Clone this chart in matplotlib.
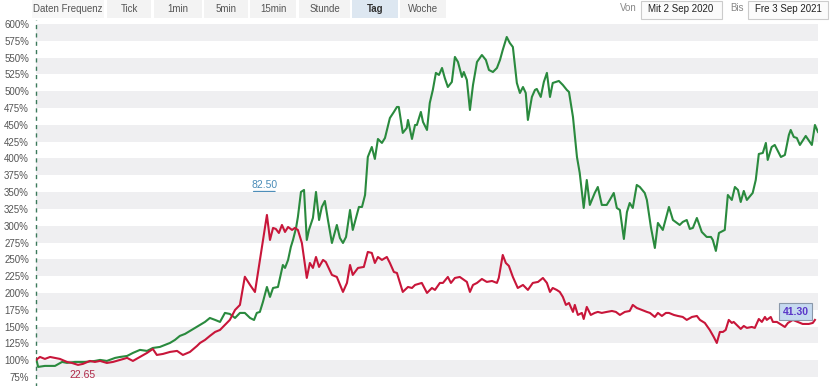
import matplotlib
matplotlib.use("Agg")
import matplotlib.pyplot as plt
from matplotlib.patches import Rectangle, Polygon

plt.rcParams['font.family'] = ['Liberation Sans', 'DejaVu Sans']

# ---------------- data ----------------
green_day = [0, 0.7, 2.9, 6.2, 8.5, 10.1, 12.7, 16, 19.2, 20.9, 23.1, 25.8, 27.4, 29.7, 31.6, 33.9, 36.2,
             38.1, 40.4, 42.1, 43.7, 45.3, 46.9, 48.6, 50.2, 51.8, 53.5, 55.1, 56.7, 58.4, 60, 61.6, 63.2,
             64.9, 66.5, 68.1, 69.8, 71.1, 72, 73, 74, 75.3, 76.3, 77.3, 78.9, 80.5, 81.2, 82.2, 83.1, 83.8,
             84.8, 85.4, 86.4, 87.4, 88.3, 89, 90.3, 91.3, 92.3, 93.2, 94.2, 95.2, 96.5, 98.1, 99.1, 100.1,
             101.1, 102.4, 103.3, 104.6, 105.3, 106.3, 107.3, 108.2, 109.5, 110.5, 111.5, 112.8, 113.8,
             115.4, 116.7, 117.7, 118.3, 119.6, 120.9, 121.3, 122.6, 123.6, 124.2, 125.5, 126.2, 127.5,
             128.4, 129.4, 130.4, 131.4, 132.4, 133.3, 134.3, 135.6, 136.6, 137.6, 138.9, 139.5, 140.5,
             141.5, 142.5, 143.8, 145.4, 146.7, 147.7, 149, 150.3, 151.3, 152.2, 153.5, 154.5, 155.5,
             156.8, 157.8, 158.8, 159.7, 160.4, 161.7, 162.7, 163.3, 164.6, 165.6, 166.6, 167.6, 168.5,
             170.5, 171.8, 173.1, 173.8, 175.1, 176.4, 177.3, 178.6, 179.6, 180.6, 182.2, 183.2, 184.5,
             186.1, 187.1, 188.4, 189.4, 190.4, 191.7, 192.7, 193.6, 194.6, 195.9, 196.9, 198.5, 199.2,
             200.5, 201.8, 202.8, 204.4, 206.4, 207.7, 209, 209.9, 210.9, 212.2, 213.2, 214.2, 215.5,
             217.1, 218.7, 220.1, 220.7, 221.7, 222.7, 224.6, 225.6, 226.9, 227.9, 228.9, 229.8, 230.8,
             231.8, 233.7, 234.7, 235.7, 237, 238, 238.6, 239.9, 240.9, 242.9, 244.2, 245.5, 246.1, 247.1,
             248.1, 249.1, 251, 253, 254, 255]
green_pct = [103, 90, 91.5, 91.5, 97.4, 96, 97.4, 97.4, 98.9, 100.4, 98.9, 103.4, 104.8, 106.3, 110.8,
             115.3, 113.8, 118.2, 119.7, 122.7, 125.7, 130.1, 136.1, 139.1, 143.5, 148, 152.4, 156.9,
             162.8, 159.9, 156.9, 170.3, 168.8, 162.8, 170.3, 170.3, 162.8, 159.8, 170.3, 171.8, 186.6,
             208.9, 194.1, 207.4, 208.9, 241.6, 237.2, 249.1, 268.4, 278.8, 296.7, 313, 350.2, 353.2,
             278.8, 293.7, 311.5, 350.2, 308.5, 327.9, 336.8, 308.5, 274.3, 301.1, 281.8, 274.3, 283.3,
             323.4, 293.7, 316, 327.9, 327.9, 345.7, 402.2, 417.1, 399.3, 429, 423.1, 430.5, 460.2,
             469.2, 476.6, 476.6, 438, 445.4, 457.3, 429, 449.8, 449.8, 469.2, 454.3, 442.4, 482.5,
             501.9, 527.3, 524.2, 534.6, 519.7, 506.3, 513.8, 551, 543.5, 521.2, 528.6, 516.7, 472.1,
             509.3, 543.5, 553.9, 546.5, 531.6, 528.6, 534.6, 546.5, 561.4, 580.7, 571.8, 565.8, 512.3,
             497.4, 506.3, 497.4, 457.3, 491.5, 501.9, 503.4, 491.5, 513.8, 527.3, 491.5, 512.3, 515.3,
             509.3, 501.9, 498.9, 461.7, 402.2, 378.5, 326.4, 368, 330.9, 348.7, 357.6, 330.9, 330.9,
             338.3, 348.7, 326.4, 323.4, 280.3, 320.4, 333.8, 326.4, 360.6, 357.6, 348.7, 338.3, 298.1,
             266.9, 304.1, 293.7, 327.9, 308.5, 304.1, 301.1, 305.6, 308.5, 295.2, 296.7, 311.5, 290.7,
             283.3, 283.3, 278.8, 262.5, 289.2, 293.7, 345.7, 338.3, 357.6, 353.2, 335.3, 351.7, 338.3,
             348.7, 368, 406.7, 408.2, 423.1, 397.8, 417.1, 420.1, 402.2, 405.2, 434.9, 442.4, 432,
             430.5, 420.1, 433.5, 420.1, 449.8, 439.4]

red_day = [0, 1.3, 2.9, 4.6, 6.2, 7.8, 10.1, 11.7, 13.7, 15.3, 17.6, 19.2, 20.9, 23.1, 25.1, 27.4, 29.7,
           31.6, 33.9, 36.2, 38.1, 39.4, 41.4, 43.7, 46, 47.9, 50.2, 52.5, 53.5, 55.1, 56.7, 58.4, 60,
           61.6, 63.2, 64.9, 66.5, 68.1, 69.8, 71.4, 75.3, 76.3, 77.3, 78.2, 79.2, 80.2, 81.2, 82.2,
           83.5, 84.4, 85.4, 86.7, 88.3, 89.3, 90.3, 91.3, 92.3, 93.6, 94.5, 96.5, 98.1, 100.1, 101.4,
           102.4, 103.3, 105, 106.9, 108.2, 109.5, 110.5, 111.5, 112.8, 114.4, 115.4, 116.7, 117.7,
           119.6, 121.3, 122.6, 123.6, 125.8, 127.5, 129.1, 130.1, 131.7, 132.7, 134.3, 135.3, 136.6,
           138.2, 140.5, 141.5, 142.5, 143.8, 145.4, 147, 148.7, 150.3, 150.9, 152.2, 153.2, 154.2,
           155.5, 157.1, 158.8, 160.4, 162, 163.7, 165.3, 166.6, 167.6, 168.5, 169.8, 170.8, 171.8,
           172.8, 173.8, 175.1, 175.7, 176.7, 178, 178.6, 179.6, 180.9, 182.2, 183.2, 184.5, 186.1,
           187.8, 189.1, 190.4, 192, 193.6, 194.6, 195.9, 197.6, 199.2, 200.2, 201.8, 202.8, 204.1,
           205.4, 206.4, 208, 209.3, 210.9, 212.2, 213.9, 215.5, 216.5, 218.1, 219.7, 221, 222, 223,
           224, 224.9, 225.9, 226.9, 227.5, 228.5, 229.8, 230.8, 231.8, 233.4, 234.4, 235.7, 236.7,
           237.7, 238.3, 239.6, 240.3, 241.6, 243.2, 244.2, 245.2, 246.8, 248.4, 250, 252, 253.3, 254]
red_pct = [100.4, 104.8, 101.9, 104.8, 103.4, 101.9, 97.4, 95.9, 93, 94.5, 98.9, 97.4, 98.9, 95.9, 97.4,
           100.4, 103.4, 98.9, 104.8, 110.8, 116.7, 107.8, 109.3, 112.3, 113.8, 107.8, 112.3, 121.2,
           125.7, 130.1, 136.1, 142, 145, 152.4, 159.9, 174.7, 182.2, 224.1, 211.9, 201.4, 316, 278.8,
           296.7, 295.2, 289.2, 301.1, 290.7, 298.1, 293.7, 296.7, 293.7, 274.3, 222.3, 244.6, 237.2,
           253.5, 238.7, 249.1, 246.1, 226.8, 223.8, 201.5, 214.9, 241.6, 226.8, 237.2, 238.7, 261,
           259.5, 244.6, 253.5, 249.1, 253.5, 244.6, 231.2, 229.7, 201.5, 208.9, 207.4, 211.9, 214.9,
           200, 207.4, 204.5, 214.9, 214.9, 223.8, 214.9, 222.3, 223.8, 216.4, 201.5, 211.9, 214.9,
           220.8, 216.4, 217.8, 214.9, 222.3, 256.5, 244.6, 240.2, 223.8, 207.4, 211.9, 204.5, 214.9,
           216.4, 222.3, 214.9, 201.5, 207.4, 204.5, 201.5, 194.1, 182.2, 185.1, 171.8, 182.2, 167.3,
           170.3, 161.3, 179.2, 167.3, 170.3, 171.8, 170.3, 171.8, 173.2, 171.8, 167.3, 171.8, 173.2,
           182.2, 177.7, 174.7, 171.8, 170.3, 164.3, 170.3, 165.8, 170.3, 170.3, 167.3, 165.8, 164.3,
           159.9, 164.3, 165.8, 159.9, 155.4, 145, 134.6, 125.6, 142, 142, 145, 159.9, 155.4, 156.9,
           152.4, 146.5, 150.9, 148, 149.4, 148, 161.3, 156.9, 164.3, 159.9, 164.3, 156.9, 156.9,
           152.4, 149.4, 155.4, 159.9, 156.9, 153.9, 153.9, 155.4, 159.9]

y_ticks = [75, 100, 125, 150, 175, 200, 225, 250, 275, 300, 325, 350, 375, 400, 425, 450, 475, 500,
           525, 550, 575, 600]
y_tick_labels = [f"{t}%" for t in y_ticks]

freq_buttons = ["Tick", "1min", "5min", "15min", "Stunde", "Tag", "Woche"]
active_button = "Tag"
date_from = "Mit 2 Sep 2020"
date_to = "Fre 3 Sep 2021"
label_high = "82.50"
label_low = "22.65"
label_last = "41.30"

# ---------------- figure ----------------
W, H = 830, 386
fig = plt.figure(figsize=(W / 100, H / 100), dpi=100)
fig.patch.set_facecolor("white")

ax_left, ax_right = 36, 818
ax_top, ax_bot = 24, 377
ax = fig.add_axes([ax_left / W, 1 - ax_bot / H, (ax_right - ax_left) / W, (ax_bot - ax_top) / H])
ax.set_xlim(0, 255)
ax.set_ylim(75, 600)

# alternating bands
for i, lo in enumerate(y_ticks[:-1]):
    hi = y_ticks[i + 1]
    if hi in (600, 550, 500, 450, 400, 350, 300, 250, 200, 150, 100):
        ax.axhspan(lo, hi, color="#efeff1", lw=0, zorder=0)

for s in ax.spines.values():
    s.set_visible(False)
ax.set_xticks([])
ax.set_yticks(y_ticks)
ax.set_yticklabels(y_tick_labels)
ax.tick_params(axis="y", length=0, pad=5, labelsize=7, labelcolor="#555555")

# dashed axis line
ax.axvline(0, ymin=-0.03, ymax=1.01, color="#3d7a5c", lw=1.0, ls=(0, (3, 3)), clip_on=False, zorder=1)

ax.plot(green_day, green_pct, color="#2a8a3e", lw=1.5, zorder=3, solid_joinstyle="round")
ax.plot(red_day, red_pct, color="#c8163a", lw=1.5, zorder=4, solid_joinstyle="round")

# labels
peak_i = red_pct.index(max(red_pct))
ax.annotate(label_high, (red_day[peak_i], red_pct[peak_i]), xytext=(-2, 18), textcoords="offset points",
            ha="center", va="bottom", fontsize=7.5, color="#4a8cb8")
ax.annotate("", xy=(red_day[peak_i] - 5.3, 351), xytext=(red_day[peak_i] + 3.6, 351),
            arrowprops=dict(arrowstyle="-", color="#4a8cb8", lw=0.8))
low_i = red_pct.index(min(red_pct[:30]))
ax.annotate(label_low, (red_day[low_i], red_pct[low_i]), xytext=(3, -4), textcoords="offset points",
            ha="center", va="top", fontsize=7.5, color="#b02848", annotation_clip=False)
ax.annotate(label_last, (red_day[-1], red_pct[-1]), xytext=(-14, 6), textcoords="offset points",
            ha="center", va="center", fontsize=7.5, color="#5a36c8", fontweight="bold",
            bbox=dict(boxstyle="square,pad=0.35", fc="#c6daf0", ec="#8a98aa", lw=0.8), zorder=6)

# ---------------- header ----------------
def px(x, y):
    return x / W, 1 - y / H

def box(x0, x1, y0, y1, fc, ec="none", lw=0):
    fig.patches.append(Rectangle(px(x0, y1), (x1 - x0) / W, (y1 - y0) / H, transform=fig.transFigure,
                                 fc=fc, ec=ec, lw=lw, zorder=0))

box(32, 104, 0, 18, "#f7f7f7")
fig.text(*px(68, 9), "Daten Frequenz", ha="center", va="center", fontsize=7, color="#555555")
btn_x = [(107, 151), (154, 202), (204, 248), (250, 296), (299, 350), (352, 398), (400, 446)]
for name, (x0, x1) in zip(freq_buttons, btn_x):
    active = name == active_button
    box(x0, x1, 0, 18, "#dde7f1" if active else "#f3f3f3")
    fig.text(*px((x0 + x1) / 2, 9), name, ha="center", va="center", fontsize=7,
             color="#333333" if active else "#555555", fontweight="bold" if active else "normal")

fig.text(*px(628, 8), "Von", ha="center", va="center", fontsize=7, color="#888888")
box(641, 722, 1, 19, "#fbfbfb", ec="#cccccc", lw=0.8)
fig.text(*px(681, 9), date_from, ha="center", va="center", fontsize=7, color="#222222")
fig.text(*px(737, 8), "Bis", ha="center", va="center", fontsize=7, color="#888888")
box(748, 828, 1, 19, "#fbfbfb", ec="#cccccc", lw=0.8)
fig.text(*px(788, 9), date_to, ha="center", va="center", fontsize=7, color="#222222")

fig.savefig("out.png", dpi=100, facecolor="white")
